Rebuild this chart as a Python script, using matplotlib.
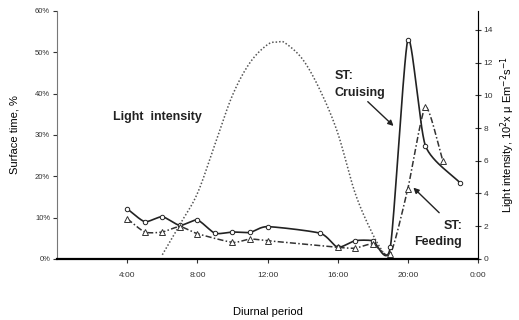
import matplotlib
matplotlib.use('Agg')
import matplotlib.pyplot as plt
import numpy as np

plt.rcParams['font.family'] = ['Liberation Sans', 'DejaVu Sans']

# hours of day, surface time (%) for the two behaviours
cruise_h = [4, 5, 6, 7, 8, 9, 10, 11, 12, 15, 16, 17, 18, 19, 20, 21, 23]
cruise_pct = [12.1, 9.0, 10.2, 8.1, 9.4, 6.2, 6.5, 6.4, 7.8, 6.2, 2.8, 4.4, 4.4, 2.8, 53.0, 27.4, 18.3]

feed_h = [4, 5, 6, 7, 8, 10, 11, 12, 16, 17, 18, 19, 20, 21, 22]
feed_pct = [9.7, 6.5, 6.5, 7.8, 6.1, 4.0, 4.8, 4.4, 2.8, 2.6, 3.6, 1.2, 17.0, 36.7, 23.7]

# light intensity, 10^2 x uE m-2 s-1
light_h = [6, 7, 8, 9, 10, 11, 12, 12.6, 13, 14, 15, 16, 17, 18, 18.7]
light_val = [0.25, 2.1, 4.0, 7.0, 10.0, 12.0, 13.1, 13.25, 13.2, 12.2, 10.3, 7.7, 4.0, 1.5, 0.2]

tick_hours = [4, 8, 12, 16, 20, 24]
tick_names = ['4:00', '8:00', '12:00', '16:00', '20:00', '0:00']


def smooth(x, y, s=0.65, n=30):
    # cardinal spline, only used to draw the smoothed line like excel does
    p = np.column_stack([x, y]).astype(float)
    m = np.zeros_like(p)
    m[1:-1] = s * (p[2:] - p[:-2]) / 2
    m[0] = s * (p[1] - p[0])
    m[-1] = s * (p[-1] - p[-2])
    t = np.linspace(0, 1, n)[:, None]
    h00 = 2 * t**3 - 3 * t**2 + 1
    h10 = t**3 - 2 * t**2 + t
    h01 = -2 * t**3 + 3 * t**2
    h11 = t**3 - t**2
    segs = [h00 * p[k] + h10 * m[k] + h01 * p[k + 1] + h11 * m[k + 1] for k in range(len(p) - 1)]
    out = np.vstack(segs)
    return out[:, 0], out[:, 1]


fig = plt.figure(figsize=(5.19, 3.2), dpi=100)
ax = fig.add_axes([0.110, 0.191, 0.811, 0.775])
ax2 = ax.twinx()

# light intensity on right axis
lx, ly = smooth(light_h, light_val, s=1.0)
ax2.plot(lx, ly, color='#555555', lw=1.1, ls=(0, (1, 1.3)))
ax2.set_ylim(0, 15.16)
ax2.set_yticks(range(0, 15, 2))
ax2.tick_params(axis='y', labelsize=6, direction='inout', length=4, width=0.8, pad=2, colors='#333333')
ax2.set_ylabel('Light intensity, 10$^2$x \u03bc Em$^{-2}$s$^{-1}$', fontsize=8, labelpad=4)

# surface time on left axis
cx, cy = smooth(cruise_h, cruise_pct)
ax.plot(cx, cy, color='#222222', lw=1.2, zorder=3)
ax.plot(cruise_h, cruise_pct, ls='none', marker='o', ms=3.2, mfc='white', mec='#222222', mew=0.7, zorder=4)

fx, fy = smooth(feed_h, feed_pct)
ax.plot(fx, fy, color='#333333', lw=1.1, ls=(0, (4, 1.5, 1, 1.5)), zorder=3)
ax.plot(feed_h, feed_pct, ls='none', marker='^', ms=3.8, mfc='white', mec='#333333', mew=0.7, zorder=4)

ax.set_xlim(0, 24)
ax.set_ylim(0, 60)
ax.set_yticks(range(0, 61, 10))
ax.set_yticklabels([f'{v}%' for v in range(0, 61, 10)])
ax.set_xticks(tick_hours)
ax.set_xticklabels(tick_names)
ax.tick_params(axis='y', labelsize=5.5, length=3, width=0.8, pad=2, colors='#333333')
ax.tick_params(axis='x', labelsize=6, length=3, width=0.8, pad=6.5, colors='#333333')
ax.set_ylabel('Surface time, %', fontsize=8, labelpad=11)
ax.set_xlabel('Diurnal period', fontsize=8, labelpad=20)

for a in (ax, ax2):
    a.spines['top'].set_visible(False)
    a.patch.set_visible(False)
ax.spines['left'].set_color('#777777')
ax2.spines['right'].set_color('#777777')
ax2.spines['left'].set_visible(False)
ax.spines['bottom'].set_linewidth(1.6)
ax2.spines['bottom'].set_visible(False)
ax.set_zorder(ax2.get_zorder() + 1)

ax.text(3.2, 34.4, 'Light  intensity', fontsize=9, fontweight='bold', va='center', ha='left', color='#222222')
ax.text(15.8, 44.3, 'ST:', fontsize=9, fontweight='bold', va='center', ha='left', color='#222222')
ax.text(15.8, 40.2, 'Cruising', fontsize=9, fontweight='bold', va='center', ha='left', color='#222222')
ax.text(23.1, 8.0, 'ST:', fontsize=9, fontweight='bold', va='center', ha='right', color='#222222')
ax.text(23.1, 4.1, 'Feeding', fontsize=9, fontweight='bold', va='center', ha='right', color='#222222')

ax.annotate('', xy=(19.3, 31.7), xytext=(17.6, 38.5),
            arrowprops=dict(arrowstyle='-|>', color='#222222', lw=1.0, mutation_scale=8))
ax.annotate('', xy=(20.2, 17.7), xytext=(21.9, 10.7),
            arrowprops=dict(arrowstyle='-|>', color='#222222', lw=1.0, mutation_scale=8))

fig.savefig('out.png', dpi=100)
